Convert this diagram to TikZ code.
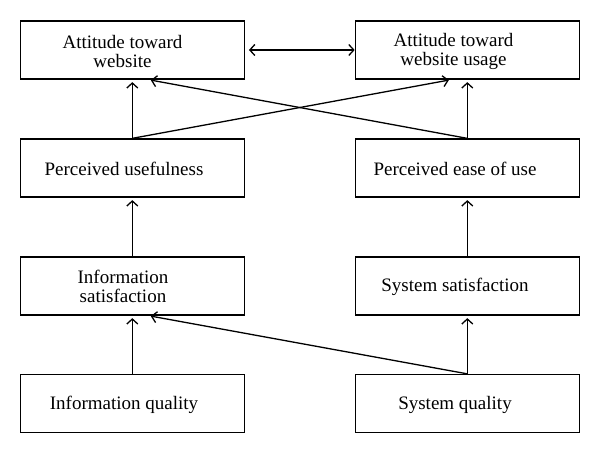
\documentclass[tikz,border=0pt]{standalone}
\usepackage{fontspec}
\setmainfont{Liberation Serif}
\usetikzlibrary{arrows.meta}
\begin{document}
\begin{tikzpicture}[x=1pt,y=-1pt,
  box/.style={draw, line width=1.3pt, minimum width=224pt, minimum height=58pt, inner sep=0pt},
  lbl/.style={align=center, inner sep=0pt, font=\fontsize{19}{19.3}\selectfont},
  arr/.style={line width=1.3pt, -{Straight Barb[length=5pt,width=11pt,line width=1.3pt]}, shorten >=2.5pt}]
\useasboundingbox (0,0) rectangle (600,454);
% boxes
\node[box] (atw) at (132.3,50) {};
\node[box] (atu) at (467.3,50) {};
\node[box] (pu)  at (132.3,168) {};
\node[box] (pe)  at (467.3,168) {};
\node[box] (is)  at (132.3,286) {};
\node[box] (ss)  at (467.3,286) {};
\node[box] (iq)  at (132.3,403.5) {};
\node[box] (sq)  at (467.3,403.5) {};
% labels
\node[lbl] (atw-t) at (122.5,51.5) {Attitude toward\\website};
\node[lbl] (atu-t) at (453.5,51.5) {Attitude toward\\website usage};
\node[lbl] (pu-t)  at (124,168.5) {Perceived usefulness};
\node[lbl] (pe-t)  at (455,168.5) {Perceived ease of use};
\node[lbl] (is-t)  at (123,286.5) {Information\\satisfaction};
\node[lbl] (ss-t)  at (455,286.5) {System satisfaction};
\node[lbl] (iq-t)  at (124,404.5) {Information quality};
\node[lbl] (sq-t)  at (455,404.5) {System quality};
% coordinates for arrow ends
\coordinate (atw-a) at ([xshift=16pt]atw.south);
\coordinate (atu-a) at ([xshift=-16pt]atu.south);
\coordinate (is-a)  at ([xshift=16pt]is.south);
% arrows
\draw[arr] (pu.north) -- (atw.south);
\draw[arr] (pe.north) -- (atu.south);
\draw[arr] (pu.north) -- (atu-a);
\draw[arr] (pe.north) -- (atw-a);
\draw[arr] (is.north) -- (pu.south);
\draw[arr] (ss.north) -- (pe.south);
\draw[arr] (iq.north) -- (is.south);
\draw[arr] (sq.north) -- (ss.south);
\draw[arr] (sq.north) -- (is-a);
\draw[line width=1.3pt, {Straight Barb[length=5pt,width=11pt,line width=1.3pt]}-{Straight Barb[length=5pt,width=11pt,line width=1.3pt]}, shorten <=4pt] (atw.east) -- (atu.west);
\end{tikzpicture}
\end{document}
